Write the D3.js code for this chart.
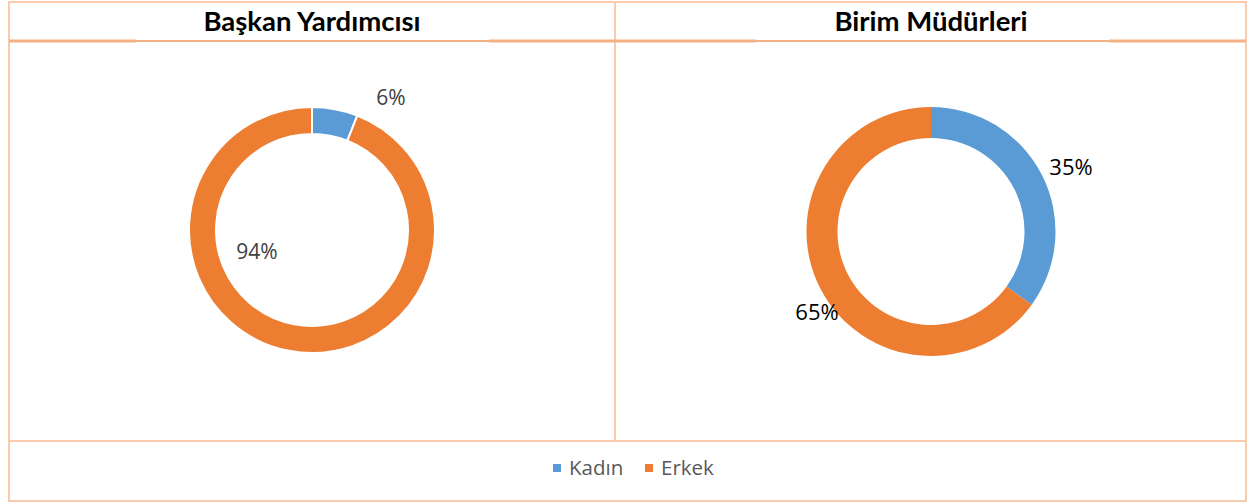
<!DOCTYPE html>
<html lang="tr">
<head>
<meta charset="UTF-8">
<title>Kadın / Erkek dağılımı</title>
<script src="https://d3js.org/d3.v7.min.js"></script>
<style>
  body { margin: 0; background: #fff; }
  svg { display: block; }
</style>
</head>
<body>
<svg id="chart"></svg>
<script>
// data
const categories = ["Kadın", "Erkek"];
const panelTitles = ["Başkan Yardımcısı", "Birim Müdürleri"];
const baskanValues = [6, 94];
const birimValues = [35, 65];

const width = 1249, height = 504;
const colors = d3.scaleOrdinal().domain(categories).range(["#5b9bd5", "#ed7d31"]);
const borderColor = "#f8cbad", lineColor = "#f4b183";

const svg = d3.select("#chart").attr("width", width).attr("height", height);

// table frame
const L = 9, R = 1246, T = 2, B = 501, mid = 615, legY = 441;
svg.append("rect").attr("x", L).attr("y", T).attr("width", R - L).attr("height", B - T)
   .attr("fill", "none").attr("stroke", borderColor).attr("stroke-width", 2);
svg.append("line").attr("x1", mid).attr("x2", mid).attr("y1", T).attr("y2", legY)
   .attr("stroke", borderColor).attr("stroke-width", 2);
svg.append("line").attr("x1", L).attr("x2", R).attr("y1", legY).attr("y2", legY)
   .attr("stroke", borderColor).attr("stroke-width", 2);

// title underline (thick ends, thinner middle)
const segs = [[L, 136, 3.2], [136, 489, 2], [489, mid, 3.2], [mid, 756, 3.2], [756, 1109, 2], [1109, R, 3.2]];
segs.forEach(s => {
  svg.append("line").attr("x1", s[0]).attr("x2", s[1]).attr("y1", 41).attr("y2", 41)
     .attr("stroke", lineColor).attr("stroke-width", s[2]);
});

const panels = [
  { title: panelTitles[0], values: baskanValues, cx: 312, cy: 230, ro: 123, ri: 96, stroke: 2,
    labelColor: "#404040", labelSize: 21, titleX: 312,
    labels: [[391, 97], [257, 251]] },
  { title: panelTitles[1], values: birimValues, cx: 931, cy: 231.5, ro: 124.5, ri: 93.5, stroke: 0,
    labelColor: "#000", labelSize: 22, titleX: 931,
    labels: [[1071, 167], [817, 312]] }
];

const pie = d3.pie().sort(null).value(d => d.value);

panels.forEach(p => {
  svg.append("text").attr("x", p.titleX).attr("y", 31)
     .attr("text-anchor", "middle")
     .style("font-family", "Lato, 'Open Sans', sans-serif")
     .style("font-weight", "bold").style("font-size", "27.5px")
     .attr("fill", "#000").text(p.title);

  const data = categories.map((c, i) => ({ cat: c, value: p.values[i] }));
  const arc = d3.arc().innerRadius(p.ri).outerRadius(p.ro);
  const g = svg.append("g").attr("transform", `translate(${p.cx},${p.cy})`);
  g.selectAll("path").data(pie(data)).enter().append("path")
   .attr("d", arc)
   .attr("fill", d => colors(d.data.cat))
   .attr("stroke", p.stroke ? "#fff" : "none")
   .attr("stroke-width", p.stroke);

  svg.selectAll(null).data(data).enter().append("text")
     .attr("x", (d, i) => p.labels[i][0])
     .attr("y", (d, i) => p.labels[i][1] + 8)
     .attr("text-anchor", "middle")
     .style("font-family", "'Open Sans', sans-serif").style("font-size", p.labelSize + "px")
     .attr("fill", p.labelColor)
     .text(d => d.value + "%");
});

// legend
const legend = svg.append("g");
const legendX = [553, 645];
categories.forEach((c, i) => {
  legend.append("rect").attr("x", legendX[i]).attr("y", 464).attr("width", 8).attr("height", 8)
        .attr("fill", colors(c));
  legend.append("text").attr("x", legendX[i] + 16).attr("y", 475)
        .style("font-family", "'Open Sans', sans-serif").style("font-size", "20.5px")
        .attr("fill", "#595959").text(c);
});
</script>
</body>
</html>
